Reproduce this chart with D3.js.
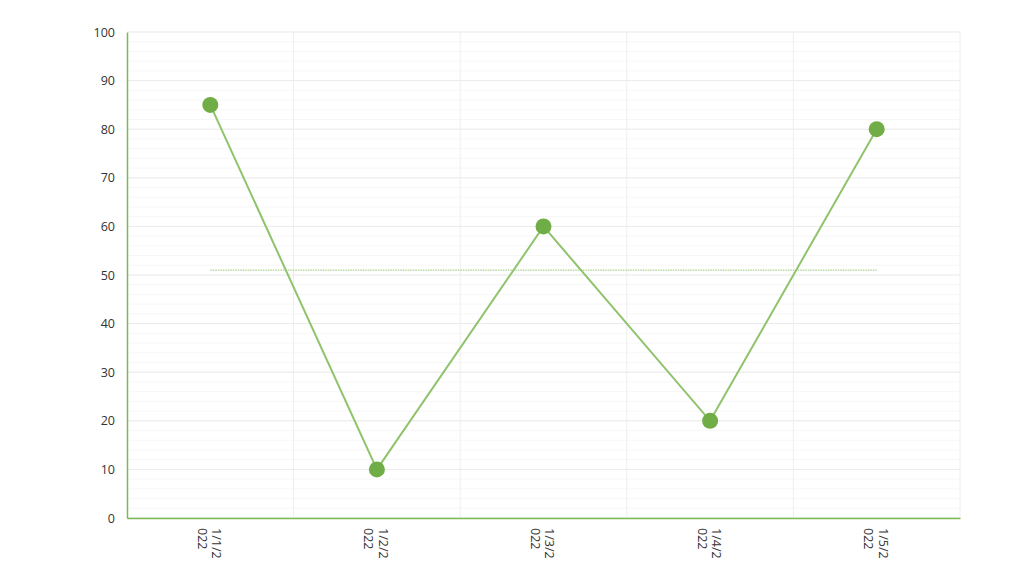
<!DOCTYPE html>
<html><head><meta charset="utf-8">
<script src="https://cdn.jsdelivr.net/npm/d3@7"></script>
<style>body{margin:0;background:#fff}svg{display:block}text{font-family:"Open Sans","Liberation Sans",sans-serif}</style>
</head><body><svg id="c" width="1024" height="576"></svg>
<script>
const categories = ["1/1/2022","1/2/2022","1/3/2022","1/4/2022","1/5/2022"];
const values = [85, 10, 60, 20, 80];
const yTicks = [0,10,20,30,40,50,60,70,80,90,100];
const minorTicks = d3.range(0, 101, 2);

const W=1024,H=576, m={l:127,r:64,t:32,b:58};
const svg=d3.select("#c");
const x=d3.scaleBand().domain(categories).range([m.l,W-m.r]);
const y=d3.scaleLinear().domain([0,100]).range([H-m.b,m.t]);
const g=svg.append("g");

g.selectAll("line.minor").data(minorTicks).join("line")
 .attr("x1",m.l).attr("x2",W-m.r).attr("y1",d=>y(d)).attr("y2",d=>y(d))
 .attr("stroke","#f7f7f7").attr("stroke-width",1);
g.selectAll("line.major").data(yTicks).join("line")
 .attr("x1",m.l).attr("x2",W-m.r).attr("y1",d=>y(d)).attr("y2",d=>y(d))
 .attr("stroke","#ebebeb").attr("stroke-width",1);
g.selectAll("line.v").data(categories.slice(1).concat(["end"])).join("line")
 .attr("x1",(d,i)=>i<categories.length-1?x(d):W-m.r).attr("x2",(d,i)=>i<categories.length-1?x(d):W-m.r)
 .attr("y1",m.t).attr("y2",H-m.b).attr("stroke","#eeeeee").attr("stroke-width",1);

const ya=svg.append("g").attr("transform",`translate(${m.l},0)`)
 .call(d3.axisLeft(y).tickValues(yTicks).tickSize(0).tickPadding(12));
ya.select(".domain").attr("stroke","#7cb955").attr("stroke-width",1.5);
ya.selectAll("text").attr("font-size",12.5).attr("fill","#333");

const xa=svg.append("g").attr("transform",`translate(0,${H-m.b})`)
 .call(d3.axisBottom(x).tickSize(0).tickFormat(""));
xa.select(".domain").attr("stroke","#7cb955").attr("stroke-width",1.5);
const lab=svg.append("g").selectAll("text").data(categories).join("text")
 .attr("transform",d=>`translate(${x(d)+x.bandwidth()/2},${H-m.b+10}) rotate(90)`)
 .attr("font-size",12.5).attr("fill","#333");
lab.append("tspan").attr("x",0).attr("dy","-0.15em").text(d=>d.slice(0,5));
lab.append("tspan").attr("x",0).attr("dy","1.15em").text(d=>d.slice(5));

const cx=d=>x(d)+x.bandwidth()/2;
const avg=d3.mean(values);
svg.append("line").attr("x1",cx(categories[0])).attr("x2",cx(categories[categories.length-1]))
 .attr("y1",y(avg)).attr("y2",y(avg)).attr("stroke","#a9d18e").attr("stroke-width",1.2).attr("stroke-dasharray","1.5,1");

const data=categories.map((c,i)=>({c,v:values[i]}));
svg.append("path").datum(data).attr("fill","none").attr("stroke","#8fc36c").attr("stroke-width",2)
 .attr("d",d3.line().x(d=>cx(d.c)).y(d=>y(d.v)));
svg.selectAll("circle").data(data).join("circle")
 .attr("cx",d=>cx(d.c)).attr("cy",d=>y(d.v)).attr("r",8).attr("fill","#70ad47");
</script></body></html>
